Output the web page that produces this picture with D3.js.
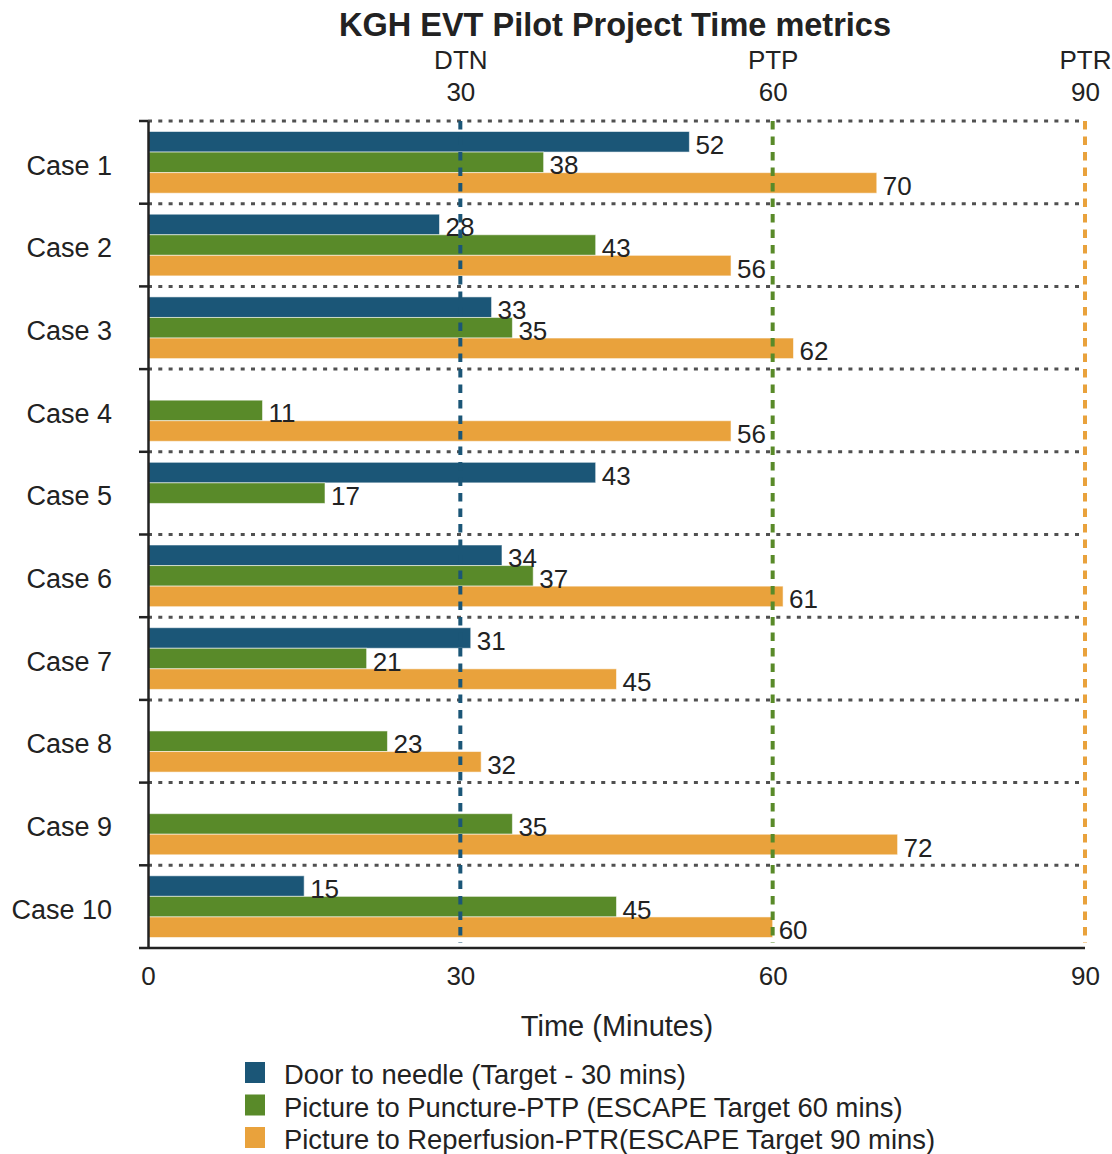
<!DOCTYPE html>
<html>
<head>
<meta charset="utf-8">
<script src="https://cdn.jsdelivr.net/npm/d3@7"></script>
<style>
  html, body { margin: 0; padding: 0; background: #fff; }
  svg { display: block; }
  text { font-family: "Liberation Sans", Arial, Helvetica, sans-serif; fill: #222; }
</style>
</head>
<body>
<svg id="chart" width="1112" height="1154"></svg>
<script>
// Time metrics per case (minutes); null = not recorded
const cases = ["Case 1", "Case 2", "Case 3", "Case 4", "Case 5", "Case 6", "Case 7", "Case 8", "Case 9", "Case 10"];
const doorToNeedle = [52, 28, 33, null, 43, 34, 31, null, null, 15];
const pictureToPuncture = [38, 43, 35, 11, 17, 37, 21, 23, 35, 45];
const pictureToReperfusion = [70, 56, 62, 56, null, 61, 45, 32, 72, 60];

const seriesKeys = ["dtn", "ptp", "ptr"];
const seriesNames = [
  "Door to needle (Target - 30 mins)",
  "Picture to Puncture-PTP (ESCAPE Target 60 mins)",
  "Picture to Reperfusion-PTR(ESCAPE Target 90 mins)"
];
const seriesColors = ["#1b5677", "#598a29", "#e9a23c"];

// Target reference lines
const targetValues = [30, 60, 90];
const targetNames = ["DTN", "PTP", "PTR"];
const xTicks = [0, 30, 60, 90];

const seriesValues = [doorToNeedle, pictureToPuncture, pictureToReperfusion];

const svg = d3.select("#chart");
const plot = { left: 148, right: 1085, top: 121, bottom: 948 };

const x = d3.scaleLinear().domain([0, 90]).range([plot.left, plot.right]);
const y = d3.scaleBand().domain(cases).range([plot.top, plot.bottom]).padding(0);
const inner = d3.scaleBand().domain(seriesKeys).range([10.5, y.bandwidth() - 10.5]).padding(0);
const color = d3.scaleOrdinal().domain(seriesKeys).range(seriesColors);

// Title
svg.append("text")
  .attr("x", 615).attr("y", 36)
  .attr("text-anchor", "middle")
  .style("font-size", "32.5px").style("font-weight", "bold")
  .text("KGH EVT Pilot Project Time metrics");

// Dotted row separators (band boundaries)
const boundaries = cases.map(c => y(c));
svg.append("g").selectAll("line")
  .data(boundaries)
  .join("line")
  .attr("x1", plot.left).attr("x2", plot.right)
  .attr("y1", d => d).attr("y2", d => d)
  .attr("stroke", "#505050").attr("stroke-width", 3)
  .attr("stroke-dasharray", "4,6.3");

// Bars
const rows = cases.map((c, i) => ({
  case: c,
  values: seriesKeys.map((k, j) => ({ key: k, value: seriesValues[j][i] }))
}));

const rowG = svg.append("g").selectAll("g")
  .data(rows)
  .join("g")
  .attr("transform", d => `translate(0,${y(d.case)})`);

rowG.selectAll("rect")
  .data(d => d.values.filter(v => v.value != null))
  .join("rect")
  .attr("x", x(0))
  .attr("y", d => inner(d.key))
  .attr("width", d => x(d.value) - x(0))
  .attr("height", inner.bandwidth())
  .attr("fill", d => color(d.key))
  .attr("stroke", "rgba(255,255,255,0.55)")
  .attr("stroke-width", 1);

// Target dashed lines
svg.append("g").selectAll("line")
  .data(targetValues)
  .join("line")
  .attr("x1", d => x(d)).attr("x2", d => x(d))
  .attr("y1", plot.top).attr("y2", plot.bottom - 5)
  .attr("stroke", (d, i) => seriesColors[i])
  .attr("stroke-width", 4)
  .attr("stroke-dasharray", "8.5,7");

// Value labels
rowG.selectAll("text.value")
  .data(d => d.values.filter(v => v.value != null))
  .join("text")
  .attr("class", "value")
  .attr("x", d => x(d.value) + 6)
  .attr("y", d => inner(d.key) + inner.bandwidth() / 2 + 12)
  .style("font-size", "26px")
  .text(d => d.value);

// Left axis with ticks at band boundaries
const yAxis = svg.append("g")
  .attr("transform", `translate(${plot.left},0)`)
  .call(d3.axisLeft(y).tickSize(0).tickSizeOuter(0).tickPadding(36));
yAxis.select(".domain").attr("stroke", "#222").attr("stroke-width", 2.5);
yAxis.selectAll(".tick text").style("font-size", "27px").attr("fill", "#222").attr("dy", "0.45em");
yAxis.selectAll("line.bound")
  .data(boundaries)
  .join("line")
  .attr("class", "bound")
  .attr("x1", -9).attr("x2", 0)
  .attr("y1", d => d).attr("y2", d => d)
  .attr("stroke", "#222").attr("stroke-width", 2.5);

// Bottom axis
const xAxis = svg.append("g")
  .attr("transform", `translate(0,${plot.bottom})`)
  .call(d3.axisBottom(x).tickValues(xTicks).tickSize(0).tickSizeOuter(0).tickPadding(19).tickFormat(d3.format("d")));
xAxis.select(".domain").attr("stroke", "#222").attr("stroke-width", 2.5)
  .attr("d", `M${plot.left - 9},0H${plot.right}`);
xAxis.selectAll("text").style("font-size", "26px").attr("fill", "#222");

// Top axis: target values and names
const topAxis = svg.append("g")
  .attr("transform", `translate(0,${plot.top})`)
  .call(d3.axisTop(x).tickValues(targetValues).tickSize(0).tickPadding(20).tickFormat(d3.format("d")));
topAxis.select(".domain").remove();
topAxis.selectAll("text").style("font-size", "26px").attr("fill", "#222");
topAxis.selectAll(".tick").append("text")
  .attr("y", -52)
  .attr("fill", "#222")
  .attr("text-anchor", "middle")
  .style("font-size", "26px")
  .text((d, i) => targetNames[i]);

// Axis title
svg.append("text")
  .attr("x", 617).attr("y", 1036)
  .attr("text-anchor", "middle")
  .style("font-size", "29px")
  .text("Time (Minutes)");

// Legend
const legend = svg.append("g").attr("transform", "translate(245,1062)");
const items = legend.selectAll("g")
  .data(seriesKeys)
  .join("g")
  .attr("transform", (d, i) => `translate(0,${i * 32.5})`);
items.append("rect")
  .attr("width", 20).attr("height", 21)
  .attr("fill", d => color(d));
items.append("text")
  .attr("x", 39).attr("y", 22)
  .style("font-size", "27.4px")
  .text((d, i) => seriesNames[i]);
</script>
</body>
</html>
